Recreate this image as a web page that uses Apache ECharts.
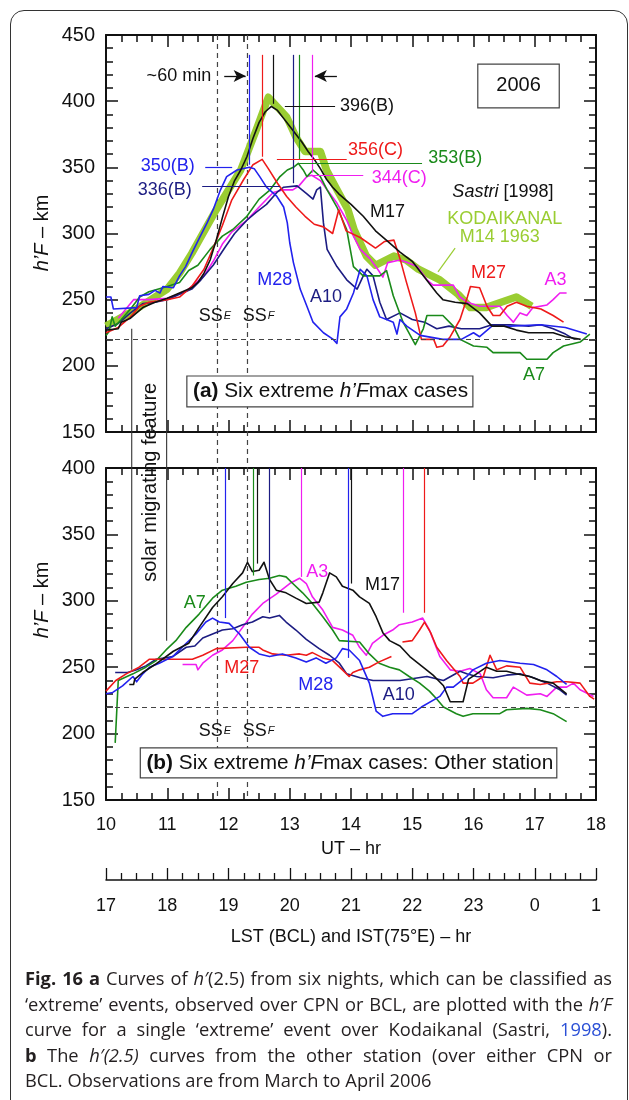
<!DOCTYPE html>
<html>
<head>
<meta charset="utf-8">
<title>h'F curves of extreme events, 2006</title>
<script src="https://cdn.jsdelivr.net/npm/echarts@6/dist/echarts.min.js"></script>
<style>
  html, body { margin: 0; padding: 0; background: #fff; }
  #wrap { position: relative; width: 629px; height: 1100px; overflow: hidden; background: #fff; }
  #chart { position: absolute; left: 0; top: 0; width: 629px; height: 1100px; }
  #frame { position: absolute; left: 10px; top: 10px; width: 618px; height: 1200px;
           border: 1.5px solid #333; border-radius: 14px; box-sizing: border-box; pointer-events: none; }
  #cap { position: absolute; left: 25px; top: 965px; width: 587px; font-family: "Open Sans", sans-serif;
         font-size: 18.3px; line-height: 25.5px; color: #231f20; }
  #cap .j { text-align: justify; text-align-last: justify; white-space: nowrap; }
  #cap .lk { color: #2a4fd6; }
</style>
</head>
<body>
<div id="wrap">
  <div id="chart"></div>
  <div id="frame"></div>
  <div id="cap">
    <div class="j"><b>Fig. 16</b> <b>a</b> Curves of <i>h′</i>(2.5) from six nights, which can be classified as</div>
    <div class="j">‘extreme’ events, observed over CPN or BCL, are plotted with the <i>h′F</i></div>
    <div class="j">curve for a single ‘extreme’ event over Kodaikanal (Sastri, <span class="lk">1998</span>).</div>
    <div class="j"><b>b</b> The <i>h′(2.5)</i> curves from the other station (over either CPN or</div>
    <div>BCL. Observations are from March to April 2006</div>
  </div>
</div>
<script>
// ---------- data: [UT hour, height km] ----------
// Panel (a): six extreme h'Fmax nights
const aM17 = [[10.0,227],[10.2,228],[10.25,233],[10.4,236],[10.5,240],[10.6,244],[10.8,248],[11.0,251],[11.2,255],[11.4,259],[11.5,263],[11.6,270],[11.7,280],[11.8,295],[11.9,312],[12.0,328],[12.1,340],[12.2,348],[12.3,358],[12.4,372],[12.5,384],[12.6,392],[12.7,396],[12.8,393],[12.9,387],[13.0,381],[13.1,375],[13.2,369],[13.3,362],[13.4,356],[13.5,349],[13.6,341],[13.7,335],[13.8,330],[13.9,326],[14.0,322],[14.2,313],[14.4,302],[14.6,294],[14.8,286],[15.0,279],[15.2,267],[15.4,255],[15.5,250],[15.7,248],[15.9,247],[16.1,240],[16.3,230],[16.5,230],[16.7,227],[16.9,225],[17.3,225],[17.5,222],[17.75,220]];
const aM27 = [[10.0,225],[10.2,229],[10.4,237],[10.55,245],[10.7,248],[11.0,250],[11.2,252],[11.4,260],[11.6,273],[11.75,289],[11.9,306],[12.05,325],[12.25,341],[12.4,352],[12.55,356],[12.65,349],[12.8,338],[12.95,328],[13.1,320],[13.25,313],[13.4,307],[13.55,305],[13.7,300],[13.8,318],[13.92,302],[14.15,297],[14.4,289],[14.55,294],[14.7,295],[14.8,281],[14.9,264],[15.05,240],[15.15,220],[15.35,220],[15.4,214],[15.5,215],[15.62,222],[15.78,235],[15.9,252],[15.95,260],[16.1,259],[16.22,245],[16.32,238],[16.43,238],[16.55,245],[16.7,248],[16.87,245],[17.1,243],[17.3,238],[17.47,233]];
const aA7 = [[10.0,223],[10.05,226],[10.1,237],[10.15,230],[10.25,235],[10.4,243],[10.55,252],[10.7,256],[11.0,260],[11.2,263],[11.35,272],[11.5,276],[11.7,288],[11.9,298],[12.07,303],[12.3,313],[12.5,326],[12.68,333],[12.84,343],[12.96,348],[13.06,350],[13.14,353],[13.22,348],[13.28,343],[13.38,348],[13.5,343],[13.61,333],[13.77,320],[13.93,303],[13.98,290],[14.04,275],[14.2,268],[14.47,268],[14.58,272],[14.69,253],[14.85,233],[15.05,216],[15.18,228],[15.24,238],[15.5,238],[15.67,230],[15.78,220],[16.0,215],[16.22,214],[16.32,210],[16.76,210],[16.87,205],[17.2,205],[17.3,210],[17.47,215],[17.74,218],[17.9,224]];
const aM28 = [[10.0,252],[10.08,252],[10.12,243],[10.5,244],[10.55,253],[10.7,254],[10.8,257],[10.88,255],[10.93,260],[11.1,259],[11.2,268],[11.3,275],[11.4,285],[11.53,297],[11.65,308],[11.75,318],[11.86,332],[11.97,343],[12.14,348],[12.34,350],[12.42,349],[12.51,343],[12.62,335],[12.79,328],[12.9,320],[12.96,308],[13.0,293],[13.06,278],[13.17,258],[13.28,245],[13.38,233],[13.55,225],[13.71,220],[13.77,217],[13.82,237],[13.93,243],[14.04,255],[14.15,273],[14.26,268],[14.36,250],[14.47,237],[14.58,235],[14.69,233],[14.75,224],[14.8,235],[14.91,230],[15.13,223],[15.5,220],[15.8,220],[16.0,225],[16.1,222],[16.3,230],[16.6,230],[17.1,231],[17.5,229],[17.85,224]];
const aA10 = [[10.0,228],[10.2,232],[10.4,240],[10.6,247],[10.8,248],[11.0,250],[11.2,254],[11.4,258],[11.55,265],[11.75,276],[11.95,290],[12.1,300],[12.3,310],[12.45,316],[12.62,322],[12.79,331],[12.9,335],[13.12,336],[13.28,330],[13.38,326],[13.44,333],[13.5,335],[13.55,308],[13.61,288],[13.77,275],[13.93,265],[14.1,258],[14.2,268],[14.26,273],[14.36,268],[14.47,248],[14.58,235],[14.8,240],[15.0,235],[15.2,233],[15.4,228],[15.6,230],[15.8,228],[16.1,228],[16.3,231],[16.6,231],[16.9,230],[17.1,231],[17.3,228],[17.5,224],[17.65,220]];
const aA3 = [[10.2,236],[10.45,250],[10.7,250],[11.0,251],[11.3,256],[11.6,268],[11.75,279],[11.9,292],[12.05,301],[12.3,310],[12.5,320],[12.73,331],[12.9,333],[13.05,333],[13.15,336],[13.28,343],[13.36,344],[13.5,340],[13.61,333],[13.77,323],[13.93,310],[14.04,298],[14.15,288],[14.31,281],[14.45,272],[14.52,267],[14.6,278],[14.8,280],[14.92,278],[15.08,275],[15.24,265],[15.34,261],[15.67,261],[15.78,252],[15.9,248],[16.1,245],[16.43,245],[16.55,238],[16.65,233],[16.76,240],[16.87,238],[16.97,244],[17.2,246],[17.3,250],[17.41,255],[17.52,255]];
// Kodaikanal, M14 1963 (Sastri 1998)
const kodaikanal = [[10.0,230],[10.5,243],[11.0,258],[11.2,270],[11.4,285],[11.8,318],[12.2,348],[12.45,378],[12.65,403],[12.95,388],[13.1,373],[13.25,362],[13.5,362],[13.6,348],[13.75,335],[13.95,318],[14.05,303],[14.25,283],[14.4,276],[14.7,283],[14.9,280],[15.1,273],[15.45,265],[15.75,254],[15.95,244],[16.2,244],[16.45,248],[16.7,252],[16.95,245]];

// Panel (b): same nights, other station
const bM17 = [[10.38,237],[10.45,237],[10.47,241],[10.6,246],[10.8,252],[11.1,262],[11.35,268],[11.52,280],[11.74,295],[11.9,303],[12.07,313],[12.23,321],[12.31,329],[12.39,322],[12.5,323],[12.58,329],[12.67,316],[12.78,308],[12.94,306],[13.1,302],[13.27,298],[13.48,299],[13.54,306],[13.65,321],[13.76,318],[13.86,311],[14.03,308],[14.14,303],[14.3,298],[14.41,288],[14.52,276],[14.63,270],[14.8,266],[14.96,258],[15.15,251],[15.34,244],[15.51,236],[15.62,224],[15.83,224],[15.92,241],[16.05,245],[16.21,250],[16.38,247],[16.54,247],[16.7,245],[16.92,243],[17.09,240],[17.3,238],[17.52,230]];
const bM27 = [[10.0,232],[10.16,240],[10.33,245],[10.54,250],[10.71,256],[11.09,256],[11.41,256],[11.58,259],[11.8,264],[12.29,265],[12.5,265],[12.56,263],[12.72,260],[12.94,259],[13.16,260],[13.27,259],[13.37,261],[13.54,257],[13.7,255],[13.86,248],[13.97,243],[14.03,246],[14.14,248],[14.3,250],[14.46,254],[14.66,258]];
const bM27late = [[14.84,269],[15.0,270],[15.12,278],[15.2,284],[15.3,276],[15.4,265],[15.56,255],[15.78,243],[15.83,238],[15.99,238],[16.16,243],[16.27,259],[16.38,248],[16.54,251],[16.76,250],[16.92,238],[17.09,237],[17.36,239],[17.52,239],[17.74,238],[17.9,228],[17.97,226]];
const bA7 = [[10.15,193],[10.2,240],[10.44,245],[10.65,250],[10.82,255],[10.98,263],[11.14,270],[11.31,280],[11.52,290],[11.74,302],[11.9,308],[12.12,311],[12.29,314],[12.5,316],[12.67,317],[12.83,319],[12.94,318],[13.05,313],[13.21,306],[13.37,298],[13.54,288],[13.7,278],[13.81,270],[14.14,269],[14.3,260],[14.46,253],[14.63,250],[14.79,248],[14.95,243],[15.12,238],[15.28,232],[15.4,226],[15.51,220],[15.72,215],[15.83,213],[15.99,215],[16.43,215],[16.54,218],[16.87,219],[17.09,218],[17.3,215],[17.52,209]];
const bM28 = [[10.0,230],[10.11,231],[10.27,236],[10.44,243],[10.5,239],[10.6,245],[10.71,250],[10.87,253],[11.09,258],[11.31,268],[11.47,275],[11.63,284],[11.74,287],[11.85,284],[12.01,283],[12.18,275],[12.34,265],[12.5,260],[12.67,258],[12.88,260],[13.1,257],[13.27,254],[13.43,257],[13.59,253],[13.76,257],[13.86,264],[13.97,263],[14.14,255],[14.3,238],[14.41,217],[14.52,213],[14.68,215],[15.0,215],[15.15,220],[15.45,228],[15.56,235],[15.67,235],[15.89,243],[15.99,248],[16.21,253],[16.43,255],[16.76,253],[16.98,252],[17.2,248],[17.36,243],[17.52,237]];
const bA10 = [[10.15,246],[10.35,246],[10.5,248],[10.65,251],[10.82,256],[11.09,258],[11.31,265],[11.45,266],[11.58,272],[11.74,275],[11.9,278],[12.07,279],[12.23,282],[12.39,284],[12.56,288],[12.67,287],[12.83,289],[12.94,284],[13.1,278],[13.27,271],[13.48,264],[13.65,259],[13.81,253],[13.93,245],[14.15,242],[14.36,240],[14.8,240],[15.24,243],[15.51,240],[15.78,247],[15.89,245],[16.05,243],[16.32,242],[16.54,244],[16.76,245],[16.98,242],[17.2,238],[17.41,233],[17.52,229]];
const bA3 = [[11.25,252],[11.47,252],[11.5,248],[11.58,253],[11.74,259],[11.9,263],[12.07,270],[12.23,280],[12.39,290],[12.56,298],[12.78,305],[13.0,313],[13.16,317],[13.27,313],[13.37,303],[13.54,293],[13.7,280],[13.86,278],[14.03,274],[14.14,265],[14.25,259],[14.35,268],[14.52,274],[14.68,278],[14.79,282],[15.0,284],[15.17,287],[15.28,278],[15.45,258],[15.62,248],[15.78,247],[15.94,249],[16.11,245],[16.21,233],[16.32,227],[16.54,227],[16.65,235],[16.87,229],[17.09,230],[17.2,228],[17.36,235],[17.52,235],[17.63,238],[17.74,233],[17.96,228]];

// time of h'Fmax markers: [UT, lower end km] (drawn down from the top of the frame)
const peaksA = { M28: [12.34, 352], M27: [12.55, 358], M17: [12.73, 398], A10: [13.05, 338], A7: [13.15, 356], A3: [13.36, 346] };
const peaksB = [['M28', 11.95, 287], ['A7', 12.40, 319], ['M17', 12.47, 328], ['A10', 12.67, 291], ['A3', 13.18, 318],
                ['M28', 13.96, 257], ['M17', 14.01, 313], ['A3', 14.86, 291], ['M27', 15.19, 291]];
// labelled maxima of panel (a): [night, h'Fmax km, ionosonde type, leader from UT, leader to UT]
const maxima = [['M17', 396, 'B', 12.92, 13.74], ['M27', 356, 'C', 12.79, 13.93], ['A7', 353, 'B', 13.15, 15.16],
                ['A3', 344, 'C', 13.38, 14.20], ['M28', 350, 'B', 11.62, 12.06], ['A10', 336, 'B', 11.57, 12.84]];
// sunset times (UT) of the E and F regions, and the reference height
const sunsetE = 11.82, sunsetF = 12.31, refHeight = 220;
// tick labels
const utTicks = [10, 11, 12, 13, 14, 15, 16, 17, 18];
const lstTicks = ['17', '18', '19', '20', '21', '22', '23', '0', '1'];

// ---------- styling ----------
const COL = { M17: '#111111', M27: '#ee1a1a', A7: '#1a8a1a', M28: '#2222ee', A10: '#1c1c82', A3: '#f01ef0', KOD: '#9acd32' };
const FONT = '"Liberation Sans", Arial, sans-serif';
const INK = '#111';

const chart = echarts.init(document.getElementById('chart'), null, { renderer: 'canvas' });

function xAx(grid, pos, extra) {
  return Object.assign({
    type: 'value', gridIndex: grid, position: pos, min: utTicks[0], max: utTicks[utTicks.length - 1], interval: 1,
    axisLine: { show: true, onZero: false, lineStyle: { color: INK, width: 2 } },
    axisTick: { show: true, inside: true, length: 12, lineStyle: { color: INK, width: 1.5 } },
    minorTick: { show: true, splitNumber: 4, length: 7, lineStyle: { color: INK, width: 1.5 } },
    splitLine: { show: false }, minorSplitLine: { show: false },
    axisLabel: { show: false }
  }, extra || {});
}
function yAx(grid, pos, max, labels) {
  return {
    type: 'value', gridIndex: grid, position: pos, min: 150, max: max, interval: 50,
    axisLine: { show: true, onZero: false, lineStyle: { color: INK, width: 2 } },
    axisTick: { show: true, inside: true, length: 12, lineStyle: { color: INK, width: 1.5 } },
    minorTick: { show: true, splitNumber: 5, length: 7, lineStyle: { color: INK, width: 1.5 } },
    splitLine: { show: false }, minorSplitLine: { show: false },
    axisLabel: { show: labels, margin: 11, fontSize: 20, fontFamily: FONT, color: INK }
  };
}
function curve(grid, data, color, width, z) {
  return { type: 'line', xAxisIndex: grid * 2, yAxisIndex: grid * 2, data: data, symbol: 'none', showSymbol: false,
           lineStyle: { color: color, width: width, join: 'round' }, itemStyle: { color: color }, z: z, silent: true, animation: false };
}
function markers(grid, items, top) {
  return { type: 'line', xAxisIndex: grid * 2, yAxisIndex: grid * 2, data: [], silent: true, animation: false, z: 5,
    markLine: { silent: true, animation: false, symbol: ['none', 'none'], label: { show: false },
      data: items.map(it => [{ coord: [it.x, top], lineStyle: { color: it.c, width: 1.2, type: 'solid' } }, { coord: [it.x, it.y] }]) } };
}

const peakItemsA = Object.keys(peaksA).map(k => ({ x: peaksA[k][0], y: peaksA[k][1], c: COL[k] }));
const peakItemsB = peaksB.map(p => ({ x: p[1], y: p[2], c: COL[p[0]] }));

const series = [
  curve(0, kodaikanal, COL.KOD, 7.5, 2),
  curve(0, aA3, COL.A3, 1.6, 3), curve(0, aA10, COL.A10, 1.6, 3), curve(0, aA7, COL.A7, 1.6, 3),
  curve(0, aM27, COL.M27, 1.6, 3), curve(0, aM28, COL.M28, 1.6, 3), curve(0, aM17, COL.M17, 1.6, 4),
  curve(1, bA3, COL.A3, 1.6, 3), curve(1, bA10, COL.A10, 1.6, 3), curve(1, bA7, COL.A7, 1.6, 3),
  curve(1, bM27, COL.M27, 1.6, 3), curve(1, bM27late, COL.M27, 1.6, 3), curve(1, bM28, COL.M28, 1.6, 3), curve(1, bM17, COL.M17, 1.6, 4),
  markers(0, peakItemsA, 435),
  markers(1, peakItemsB, 400),
  // labelled maxima leaders and the "~60 min" arrows
  { type: 'line', xAxisIndex: 0, yAxisIndex: 0, data: [], silent: true, animation: false, z: 5,
    markLine: { silent: true, animation: false, symbol: ['none', 'none'], label: { show: false },
      data: maxima.map(m => [{ coord: [m[3], m[1]], lineStyle: { color: COL[m[0]], width: 1.2, type: 'solid' } }, { coord: [m[4], m[1]] }])
        .concat([
          [{ coord: [11.93, 419], symbol: 'none', lineStyle: { color: INK, width: 1.3, type: 'solid' } }, { coord: [12.28, 419], symbol: 'arrow', symbolSize: [9, 12] }],
          [{ coord: [13.77, 419], symbol: 'none', lineStyle: { color: INK, width: 1.3, type: 'solid' } }, { coord: [13.41, 419], symbol: 'arrow', symbolSize: [9, 12] }]
        ]) } },
  // reference height
  { type: 'line', xAxisIndex: 0, yAxisIndex: 0, data: [], silent: true, animation: false, z: 1,
    markLine: { silent: true, animation: false, symbol: ['none', 'none'], label: { show: false },
      lineStyle: { color: '#444', width: 1.2, type: [5, 4] }, data: [{ yAxis: refHeight }] } },
  { type: 'line', xAxisIndex: 2, yAxisIndex: 2, data: [], silent: true, animation: false, z: 1,
    markLine: { silent: true, animation: false, symbol: ['none', 'none'], label: { show: false },
      lineStyle: { color: '#444', width: 1.2, type: [5, 4] }, data: [{ yAxis: refHeight }] } }
];

chart.setOption({
  animation: false,
  backgroundColor: 'transparent',
  grid: [
    { left: 106, top: 35, width: 490, height: 397 },
    { left: 106, top: 468, width: 490, height: 332 },
    { left: 106, top: 879, width: 490, height: 1 }
  ],
  xAxis: [
    xAx(0, 'bottom'), xAx(0, 'top'),
    xAx(1, 'bottom', { axisLabel: { show: true, margin: 16, fontSize: 18, fontFamily: FONT, color: INK },
                       name: 'UT – hr', nameLocation: 'middle', nameGap: 40,
                       nameTextStyle: { fontSize: 18, fontFamily: FONT, color: INK } }),
    xAx(1, 'top'),
    { type: 'value', gridIndex: 2, position: 'bottom', min: 0, max: lstTicks.length - 1, interval: 1,
      axisLine: { show: true, onZero: false, lineStyle: { color: INK, width: 1.5 } },
      axisTick: { show: true, inside: true, length: 12, lineStyle: { color: INK, width: 1.3 } },
      minorTick: { show: true, splitNumber: 4, length: 7, lineStyle: { color: INK, width: 1.3 } },
      splitLine: { show: false }, minorSplitLine: { show: false },
      axisLabel: { show: true, margin: 17, fontSize: 18, fontFamily: FONT, color: INK, formatter: v => lstTicks[Math.round(v)] },
      name: 'LST (BCL) and IST(75°E) – hr', nameLocation: 'middle', nameGap: 48,
      nameTextStyle: { fontSize: 18, fontFamily: FONT, color: INK } }
  ],
  yAxis: [
    yAx(0, 'left', 450, true), yAx(0, 'right', 450, false),
    yAx(1, 'left', 400, true), yAx(1, 'right', 400, false),
    { type: 'value', gridIndex: 2, min: 0, max: 1, show: false }
  ],
  series: series
});

// ---------- annotations (placed in data coordinates) ----------
const P = (g, u, k) => chart.convertToPixel({ gridIndex: g }, [u, k]);
function rich(size) {
  return {
    i: { fontStyle: 'italic', fontSize: size, fontFamily: FONT },
    b: { fontWeight: 'bold', fontSize: size, fontFamily: FONT },
    s: { fontStyle: 'italic', fontSize: 11, fontFamily: FONT, padding: [0, 0, 0, 1] }
  };
}
function txt(g, u, k, text, opt) {
  const p = P(g, u, k);
  const o = opt || {};
  const size = o.size || 18;
  return { type: 'text', x: p[0], y: p[1], z: 100, rotation: o.rot || 0,
    style: { text: text, fill: o.color || INK, fontSize: size, fontFamily: FONT,
             align: o.align || 'left', verticalAlign: 'middle', rich: rich(size) } };
}
function seg(a, b, stroke, w, dash, z) {
  return { type: 'line', z: z || 3, shape: { x1: a[0], y1: a[1], x2: b[0], y2: b[1] },
           style: { stroke: stroke, lineWidth: w, lineDash: dash || null } };
}
function box(g, u1, k1, u2, k2, z) {
  const a = P(g, u1, k1), b = P(g, u2, k2);
  return { type: 'rect', z: z || 90, shape: { x: a[0], y: a[1], width: b[0] - a[0], height: b[1] - a[1] },
           style: { fill: '#fff', stroke: '#444', lineWidth: 1.2 } };
}

const g = [];
// sunset lines through both panels
[sunsetE, sunsetF].forEach(t => g.push(seg(P(0, t, 450), P(1, t, 150), '#444', 1.2, [5, 4], 2)));
// solar migrating feature
g.push(seg(P(0, 10.42, 228), P(1, 10.42, 248), '#333', 1.1, null, 2));
g.push(seg(P(0, 10.99, 249), P(1, 10.99, 270), '#333', 1.1, null, 2));
{
  const p = P(0, 10.72, 112);
  g.push({ type: 'text', x: p[0], y: p[1], rotation: Math.PI / 2, z: 100,
           style: { text: 'solar migrating feature', fill: INK, fontSize: 20, fontFamily: FONT, align: 'center', verticalAlign: 'middle' } });
}
// y-axis titles
[[0, 233], [1, 600]].forEach(([gi, py]) => {
  g.push({ type: 'text', x: 42, y: py, rotation: Math.PI / 2, z: 100,
           style: { text: '{i|h’F} – km', fill: INK, fontSize: 20, fontFamily: FONT, align: 'center', verticalAlign: 'middle',
                    rich: rich(20) } });
});

// panel (a) labels
g.push(txt(0, 11.19, 419, '~60 min', { align: 'center' }));
g.push(box(0, 16.07, 428, 17.40, 395, 90));
g.push(txt(0, 16.735, 411.5, '2006', { align: 'center', size: 20 }));
maxima.forEach(m => {
  const pos = { M17: [13.82, 396], M27: [13.95, 363], A7: [15.26, 357], A3: [14.34, 342], M28: [11.45, 351], A10: [11.40, 333] }[m[0]];
  const left = m[0] === 'M28' || m[0] === 'A10';
  g.push(txt(0, pos[0], pos[1], m[1] + '(' + m[2] + ')', { color: COL[m[0]], align: left ? 'right' : 'left' }));
});
g.push(txt(0, 16.48, 331, '{i|Sastri} [1998]', { align: 'center' }));
g.push(txt(0, 14.31, 316.5, 'M17'));
g.push(txt(0, 16.51, 311, 'KODAIKANAL', { color: COL.KOD, align: 'center' }));
g.push(txt(0, 16.43, 297, 'M14 1963', { color: COL.KOD, align: 'center' }));
g.push(seg(P(0, 15.70, 289), P(0, 15.42, 271), COL.KOD, 1.2));
g.push(txt(0, 15.96, 270, 'M27', { color: COL.M27 }));
g.push(txt(0, 17.16, 264.5, 'A3', { color: COL.A3 }));
g.push(txt(0, 16.81, 193, 'A7', { color: COL.A7 }));
g.push(txt(0, 12.47, 265, 'M28', { color: COL.M28 }));
g.push(txt(0, 13.33, 252, 'A10', { color: COL.A10 }));
g.push(txt(0, 11.78, 237.5, 'SS{s|E}', { align: 'center' }));
g.push(txt(0, 12.49, 237.5, 'SS{s|F}', { align: 'center' }));
g.push(box(0, 11.32, 192.3, 15.99, 169, 90));
g.push(txt(0, 11.42, 180.5, '{b|(a)} Six extreme {i|h’F}max cases', { size: 20.8 }));

// panel (b) labels
g.push(txt(1, 11.27, 298, 'A7', { color: COL.A7 }));
g.push(txt(1, 13.27, 322, 'A3', { color: COL.A3 }));
g.push(txt(1, 14.23, 312, 'M17'));
g.push(txt(1, 11.93, 249.5, 'M27', { color: COL.M27 }));
g.push(txt(1, 13.14, 236.5, 'M28', { color: COL.M28 }));
g.push(txt(1, 14.52, 229, 'A10', { color: COL.A10 }));
g.push(txt(1, 11.78, 202, 'SS{s|E}', { align: 'center' }));
g.push(txt(1, 12.49, 202, 'SS{s|F}', { align: 'center' }));
g.push(box(1, 10.56, 189.2, 17.36, 166.6, 90));
g.push(txt(1, 10.66, 178, '{b|(b)} Six extreme {i|h’F}max cases: Other station', { size: 20.8 }));

chart.setOption({ graphic: g });
</script>
</body>
</html>
